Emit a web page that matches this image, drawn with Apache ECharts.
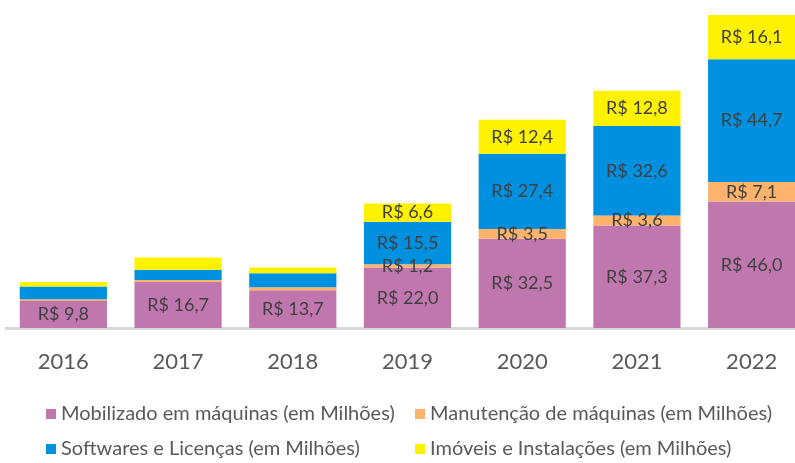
<!DOCTYPE html>
<html>
<head>
<meta charset="utf-8">
<script src="https://cdn.jsdelivr.net/npm/echarts@6/dist/echarts.min.js"></script>
<style>
  html, body { margin: 0; padding: 0; background: #fff; }
  #chart { width: 795px; height: 463px; }
</style>
</head>
<body>
<div id="chart"></div>
<script>
// values in R$ millions
var years = ['2016', '2017', '2018', '2019', '2020', '2021', '2022'];
var maquinas = [9.8, 16.7, 13.7, 22.0, 32.5, 37.3, 46.0];
var manutencao = [0.7, 0.8, 1.1, 1.2, 3.5, 3.6, 7.1];
var softwares = [4.6, 3.7, 5.1, 15.5, 27.4, 32.6, 44.7];
var imoveis = [1.6, 4.5, 2.1, 6.6, 12.4, 12.8, 16.1];
var seriesNames = [
  'Mobilizado em máquinas (em Milhões)',
  'Manutenção de máquinas (em Milhões)',
  'Softwares e Licenças (em Milhões)',
  'Imóveis e Instalações (em Milhões)'
];
var colors = ['#bf77ae', '#fdb36b', '#0090e0', '#fff200'];

var FONT = 'Lato, "Noto Sans", sans-serif';

function fmt(v) {
  return 'R$ ' + v.toFixed(1).replace('.', ',');
}

// small segments of the first years carry no label
function withLabels(values, alwaysShow) {
  return values.map(function (v, i) {
    return { value: v, label: { show: alwaysShow || i >= 3 } };
  });
}

function barSeries(idx, values) {
  return {
    name: seriesNames[idx],
    type: 'bar',
    stack: 'total',
    barWidth: '76%',
    itemStyle: { color: colors[idx] },
    label: {
      position: 'inside',
      color: '#404040',
      fontSize: 18,
      fontFamily: FONT,
      formatter: function (p) { return fmt(p.value); }
    },
    data: withLabels(values, idx === 0)
  };
}

function legendAt(idx, left, top) {
  return {
    data: [seriesNames[idx]],
    left: left,
    top: top,
    padding: 0,
    itemWidth: 10,
    itemHeight: 10,
    icon: 'rect',
    textStyle: { color: '#595959', fontSize: 20, fontFamily: FONT }
  };
}

var chart = echarts.init(document.getElementById('chart'));
chart.setOption({
  animation: false,
  color: colors,
  grid: { left: 6, width: 803, top: 15, bottom: 135, outerBoundsMode: 'none', containLabel: false },
  legend: [
    legendAt(0, 46, 404),
    legendAt(1, 415, 404),
    legendAt(2, 46, 439),
    legendAt(3, 415, 439)
  ],
  xAxis: {
    type: 'category',
    data: years,
    axisLine: { lineStyle: { color: '#d9d9d9', width: 3 } },
    axisTick: { show: false },
    axisLabel: { color: '#595959', fontSize: 22, fontFamily: FONT, margin: 23 }
  },
  yAxis: {
    type: 'value',
    min: 0,
    max: 113.9,
    show: false,
    splitLine: { show: false }
  },
  series: [
    barSeries(0, maquinas),
    barSeries(1, manutencao),
    barSeries(2, softwares),
    barSeries(3, imoveis)
  ]
});
</script>
</body>
</html>
